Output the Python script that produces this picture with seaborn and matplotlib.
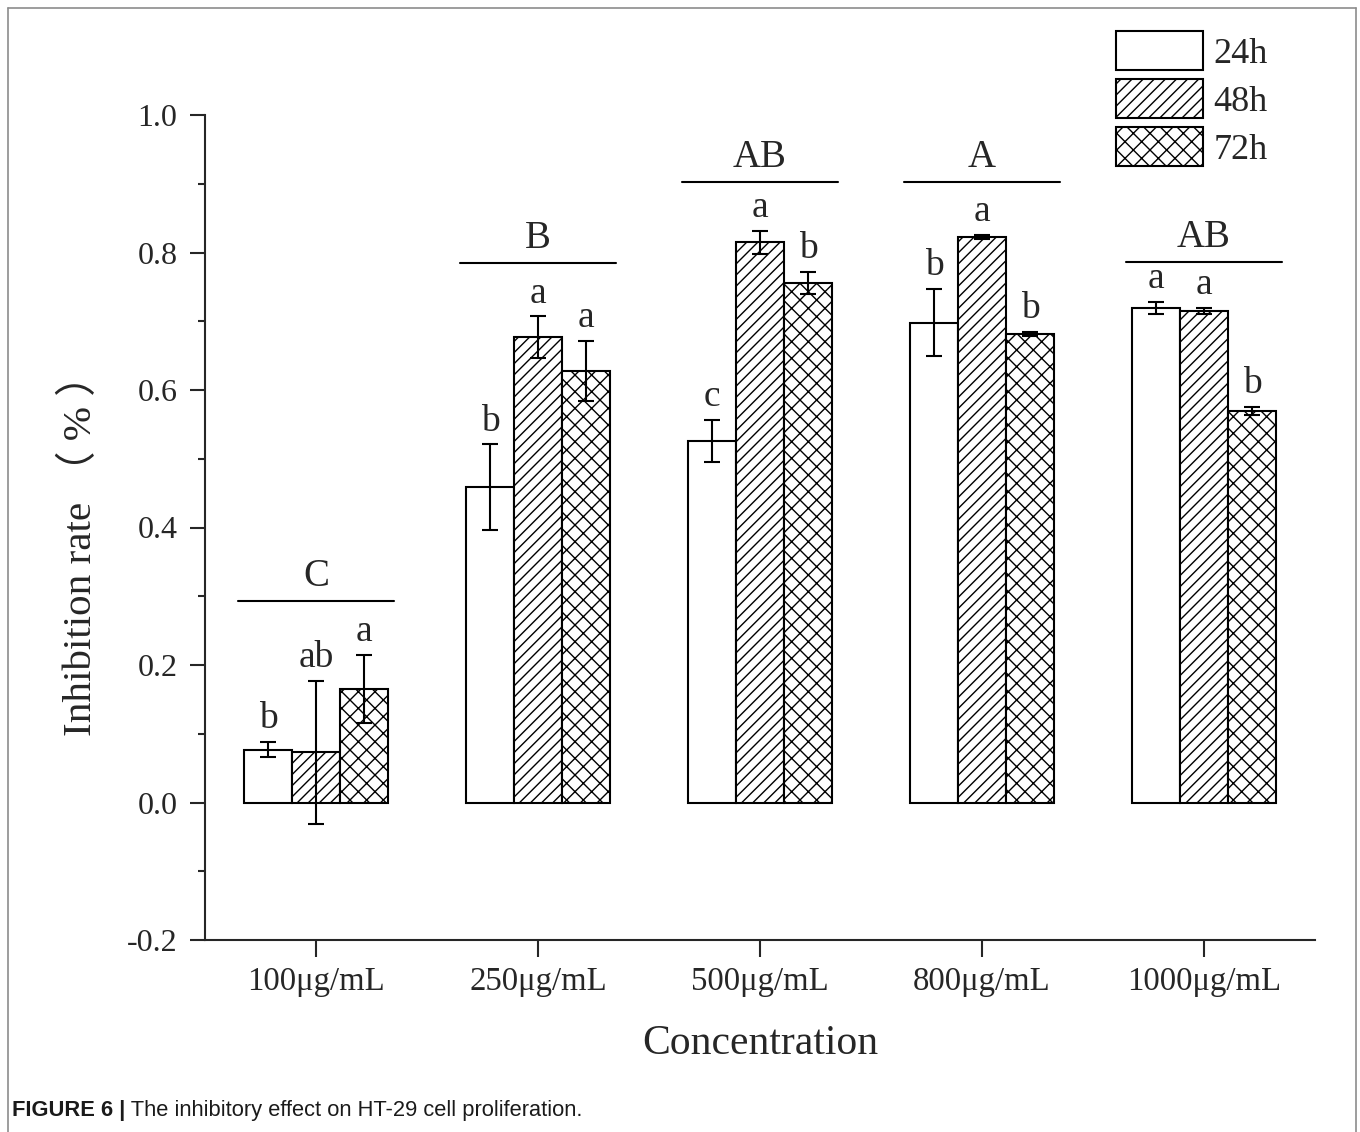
import pandas as pd
import matplotlib.pyplot as plt
import seaborn as sns
from matplotlib.patches import Patch
from matplotlib.lines import Line2D
from matplotlib.ticker import MultipleLocator, FormatStrFormatter

# Data
concentrations = ["100\u03bcg/mL", "250\u03bcg/mL", "500\u03bcg/mL", "800\u03bcg/mL", "1000\u03bcg/mL"]
times = ["24h", "48h", "72h"]

rate_24h = [0.077, 0.459, 0.526, 0.698, 0.719]
rate_48h = [0.073, 0.677, 0.815, 0.823, 0.715]
rate_72h = [0.165, 0.628, 0.756, 0.681, 0.569]

err_24h = [0.011, 0.062, 0.030, 0.049, 0.009]
err_48h = [0.104, 0.030, 0.017, 0.003, 0.005]
err_72h = [0.050, 0.044, 0.016, 0.003, 0.006]

letters_24h = ["b", "b", "c", "b", "a"]
letters_48h = ["ab", "a", "a", "a", "a"]
letters_72h = ["a", "a", "b", "b", "b"]

group_letters = ["C", "B", "AB", "A", "AB"]
group_line_level = [0.293, 0.785, 0.902, 0.902, 0.786]

means = [rate_24h, rate_48h, rate_72h]
errs = [err_24h, err_48h, err_72h]
letters = [letters_24h, letters_48h, letters_72h]

df = pd.DataFrame({
    "conc": concentrations * 3,
    "time": [t for t in times for _ in concentrations],
    "rate": rate_24h + rate_48h + rate_72h,
})

sns.set_style("ticks")
plt.rcParams["font.family"] = ["Liberation Serif", "Noto Sans CJK SC"]
plt.rcParams["axes.unicode_minus"] = False
plt.rcParams["hatch.linewidth"] = 0.5

fig, ax = plt.subplots(figsize=(6.8, 5.66), dpi=200)
ax.set_position([205 / 1360, 1 - 940 / 1132, 1110 / 1360, 825 / 1132])

sns.barplot(data=df, x="conc", y="rate", hue="time", order=concentrations,
            hue_order=times, palette=["white"] * 3, saturation=1,
            edgecolor="black", linewidth=0.75, width=0.65, gap=0,
            errorbar=None, legend=False, ax=ax)

hatches = ["", "//////", "xxxx"]
bar_containers = list(ax.containers)
for i, cont in enumerate(bar_containers):
    xs = []
    for p in cont.patches:
        p.set_hatch(hatches[i])
        p.set_edgecolor("black")
        xs.append(p.get_x() + p.get_width() / 2)
    ax.errorbar(xs, means[i], yerr=errs[i], fmt="none", ecolor="black",
                elinewidth=0.75, capsize=3, capthick=0.75, zorder=5)
    for x, m, e, lab in zip(xs, means[i], errs[i], letters[i]):
        ax.text(x, m + e + 0.02, lab, ha="center", va="baseline", fontsize=13.5)

# group brackets and capital letters
for g, (lab, lvl) in enumerate(zip(group_letters, group_line_level)):
    ax.plot([g - 0.35, g + 0.35], [lvl, lvl], color="black", lw=0.75)
    ax.text(g, lvl + 0.022, lab, ha="center", va="baseline", fontsize=14)

ax.set_xlim(-0.5, 4.5)
ax.set_ylim(-0.2, 1.0)
ax.yaxis.set_major_locator(MultipleLocator(0.2))
ax.yaxis.set_minor_locator(MultipleLocator(0.1))
ax.yaxis.set_major_formatter(FormatStrFormatter("%.1f"))
ax.tick_params(axis="y", which="major", length=5.4, width=0.75, pad=4.5, labelsize=11.5)
ax.tick_params(axis="y", which="minor", length=2.6, width=0.75)
ax.tick_params(axis="x", which="major", length=6, width=0.75, pad=3.5, labelsize=11.8)
for s in ["left", "bottom"]:
    ax.spines[s].set_linewidth(0.75)
sns.despine(ax=ax)

ax.set_xlabel("Concentration", fontsize=15)
ax.set_ylabel("Inhibition rate \uff08 % \uff09", fontsize=14.8)
ax.xaxis.set_label_coords(0.5, -0.103)
ax.yaxis.set_label_coords(-0.095, 0.478)

handles = [Patch(facecolor="white", edgecolor="black", hatch=h, lw=0.75) for h in hatches]
fig.legend(handles, times, loc="upper left", bbox_to_anchor=(1116 / 1360, 1 - 31 / 1132),
           frameon=False, fontsize=13, handlelength=2.4, handleheight=1.28,
           handletextpad=0.3, labelspacing=0.24, borderpad=0, borderaxespad=0)

# frame around the figure panel
gray = "#8c8c8c"
fig.add_artist(Line2D([8 / 1360, 8 / 1360], [0, 1 - 8 / 1132], color=gray, lw=0.6))
fig.add_artist(Line2D([8 / 1360, 1356 / 1360], [1 - 8 / 1132, 1 - 8 / 1132], color=gray, lw=0.6))
fig.add_artist(Line2D([1356 / 1360, 1356 / 1360], [0, 1 - 8 / 1132], color=gray, lw=0.6))

# caption
t1 = fig.text(12 / 1360, 1 - 1121 / 1132, "FIGURE 6 |", fontsize=7.9, fontweight="bold",
              family="Liberation Sans", color="#1a1a1a", va="bottom")
ax.annotate(" The inhibitory effect on HT-29 cell proliferation.", xy=(1, 0), xycoords=t1,
            ha="left", va="bottom", fontsize=7.9, family="Liberation Sans", color="#1a1a1a",
            annotation_clip=False)

fig.savefig("out.png", dpi=200)
